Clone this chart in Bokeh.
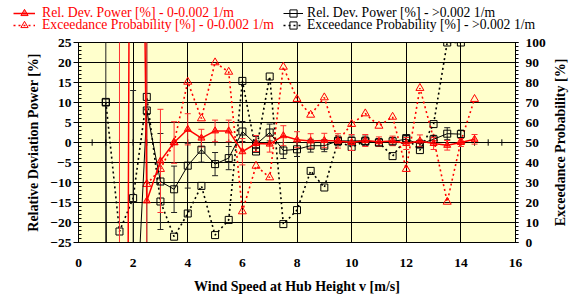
import numpy as np
from bokeh.plotting import figure
from bokeh.layouts import row
from bokeh.models import (Range1d, LinearAxis, SingleIntervalTicker, Legend, LegendItem,
                          ColumnDataSource, Label)
from bokeh.embed import file_html
from bokeh.resources import INLINE

# ---------------- data ----------------
wind_black = [1.0, 1.5, 2.0, 2.5, 3.0, 3.5, 4.0, 4.5, 5.0, 5.5, 6.0, 6.5, 7.0, 7.5,
              8.0, 8.5, 9.0, 9.5, 10.0, 10.5, 11.0, 11.5, 12.0, 12.5, 13.0, 13.5, 14.0]
dev_black = [10.0, -900.0, -60.0, 8.0, -9.75, -11.7, -5.8, -1.8, -5.4, -3.9, 2.75, -0.5, 2.5, -2.0,
             -1.7, -0.8, -0.8, 0.4, 0.4, 0.4, 0.0, 0.3, 0.8, -0.4, 0.8, 2.2, 2.1]
err_black = [500.0, 800.0, 73.0, 200.0, 12.0, 5.8, 5.6, 3.1, 2.9, 2.9, 2.5, 2.0, 2.1, 2.0,
             1.8, 1.6, 1.5, 1.2, 1.2, 1.2, 1.0, 1.0, 1.0, 1.0, 1.0, 1.5, 1.0]
prob_black = [70.3, 5.5, 22.2, 72.8, 20.5, 2.9, 14.5, 28.3, 3.7, 11.3, 80.8, 45.5, 83.0, 9.2,
              16.2, 35.8, 27.5, 50.5, 47.8, 50.5, 50.0, 43.2, 52.2, 46.2, 59.2, 100.0, 100.0]

wind_red = [1.5, 2.0, 2.5, 3.0, 3.5, 4.0, 4.5, 5.0, 5.5, 6.0, 6.5, 7.0, 7.5, 8.0,
            8.5, 9.0, 9.5, 10.0, 10.5, 11.0, 11.5, 12.0, 12.5, 13.0, 13.5, 14.0, 14.5]
dev_red = [-600.0, 300.0, -14.6, -4.6, 0.0, 3.3, 1.1, 2.9, 2.9, -2.3, -0.25, -0.4, 1.7, 0.7,
           0.4, 0.5, 0.4, 0.0, 0.5, 0.2, 0.4, -0.25, 0.4, -0.25, -0.7, 0.0, 0.8]
err_red = [700.0, 0.0, 300.0, 12.9, 5.2, 3.9, 2.2, 2.7, 2.7, 3.3, 2.0, 2.0, 2.5, 2.0,
           1.8, 1.8, 1.8, 2.0, 1.5, 1.2, 1.2, 1.5, 1.5, 1.5, 1.2, 1.0, 1.2]

wind_red_prob = [2.5, 3.0, 3.5, 4.0, 4.5, 5.0, 5.5, 6.0, 6.5, 7.0, 7.5, 8.0, 8.5,
                 9.0, 9.5, 10.0, 10.5, 11.0, 11.5, 12.0, 12.5, 13.0, 13.5, 14.0, 14.5]
prob_red = [29.2, 36.7, 50.0, 80.3, 62.0, 90.0, 85.3, 15.5, 38.3, 32.5, 87.8, 71.7, 63.8,
            72.5, 50.8, 59.2, 64.5, 58.3, 62.8, 36.7, 77.2, 52.0, 20.3, 50.5, 71.7]

labels_red = ["Rel. Dev. Power [%] - 0-0.002 1/m", "Exceedance Probability [%] - 0-0.002 1/m"]
labels_black = ["Rel. Dev. Power [%] - >0.002 1/m", "Exceedance Probability [%] - >0.002 1/m"]
x_title = "Wind Speed at Hub Height v [m/s]"
y_title = "Relative Deviation Power [%]"
y2_title = "Exceedance Probability [%]"

RED = "#FF0000"
RED_ERR = "#FF3030"
BLACK = "#000000"
FONT = "Liberation Serif"
DASH = "2 3"

src_b = ColumnDataSource(dict(x=wind_black, y=dev_black,
                              lo=[v - e for v, e in zip(dev_black, err_black)],
                              hi=[v + e for v, e in zip(dev_black, err_black)]))
src_r = ColumnDataSource(dict(x=wind_red, y=dev_red,
                              lo=[v - e for v, e in zip(dev_red, err_red)],
                              hi=[v + e for v, e in zip(dev_red, err_red)]))
src_bp = ColumnDataSource(dict(x=wind_black, y=prob_black))
src_rp = ColumnDataSource(dict(x=wind_red_prob, y=prob_red))

STY = {
    "r":  dict(line=dict(line_color=RED, line_width=1.5),
               mark=dict(marker="triangle", size=7, line_color=RED, fill_color=RED, fill_alpha=0.5, line_width=1)),
    "rp": dict(line=dict(line_color=RED, line_width=1.6, line_dash=DASH),
               mark=dict(marker="triangle", size=8, line_color=RED, fill_color=None, line_width=1)),
    "b":  dict(line=dict(line_color=BLACK, line_width=1),
               mark=dict(marker="square", size=7, line_color=BLACK, fill_color=None, line_width=1)),
    "bp": dict(line=dict(line_color=BLACK, line_width=1.6, line_dash=DASH),
               mark=dict(marker="square", size=7, line_color=BLACK, fill_color=None, line_width=1)),
}

# ---------------- main chart ----------------
p = figure(width=548, height=263, x_range=Range1d(0, 16), y_range=Range1d(-25, 25),
           output_backend="svg", toolbar_location=None,
           min_border_left=78, min_border_right=33, min_border_top=8, min_border_bottom=55)
p.extra_y_ranges = {"prob": Range1d(0, 100)}
p.background_fill_color = "#FFFFCC"
p.border_fill_color = "white"
p.outline_line_color = BLACK
p.outline_line_width = 1

p.xgrid.ticker = SingleIntervalTicker(interval=2)
p.ygrid.ticker = SingleIntervalTicker(interval=5)
p.xgrid.grid_line_color = BLACK
p.ygrid.grid_line_color = BLACK

xa = p.xaxis[0]
xa.ticker = SingleIntervalTicker(interval=2, num_minor_ticks=0)
xa.major_tick_out = 0
xa.major_tick_in = 0
xa.minor_tick_out = 0
xa.minor_tick_in = 0
xa.axis_label = x_title
xa.major_label_standoff = 16
xa.axis_label_standoff = 9

ya = p.yaxis[0]
ya.ticker = SingleIntervalTicker(interval=5, num_minor_ticks=5)
ya.major_tick_in = 5
ya.major_tick_out = 5
ya.minor_tick_in = 3
ya.minor_tick_out = 0
ya.axis_label = y_title
ya.major_label_standoff = 2
ya.axis_label_standoff = 6

ra = LinearAxis(y_range_name="prob", ticker=SingleIntervalTicker(interval=10, num_minor_ticks=5))
ra.major_tick_in = 3
ra.major_tick_out = 3
ra.minor_tick_in = 0
ra.minor_tick_out = 3
ra.major_label_standoff = 7
p.add_layout(ra, "right")

for ax in [xa, ya, ra]:
    ax.axis_line_color = BLACK
    ax.major_tick_line_color = BLACK
    ax.minor_tick_line_color = BLACK
    ax.major_label_text_font = FONT
    ax.major_label_text_font_style = "bold"
    ax.major_label_text_font_size = "13.5px"
    ax.major_label_text_color = BLACK
    ax.axis_label_text_font = FONT
    ax.axis_label_text_font_style = "bold"
    ax.axis_label_text_font_size = "14px"
    ax.axis_label_text_color = BLACK

# tick marks of the horizontal axis that crosses at zero
axis_ticks = np.arange(0.5, 16.0, 0.5)
p.segment(x0=axis_ticks, y0=-0.8, x1=axis_ticks, y1=0.8, line_color=BLACK, line_width=1)

# exceedance probabilities (right axis)
p.line("x", "y", source=src_bp, y_range_name="prob", **STY["bp"]["line"])
p.scatter("x", "y", source=src_bp, y_range_name="prob", **STY["bp"]["mark"])
p.line("x", "y", source=src_rp, y_range_name="prob", **STY["rp"]["line"])
p.scatter("x", "y", source=src_rp, y_range_name="prob", **STY["rp"]["mark"])

# error bars
for src, col in [(src_b, "#222222"), (src_r, RED_ERR)]:
    p.segment(x0="x", y0="lo", x1="x", y1="hi", source=src, line_color=col, line_width=1)
    p.scatter("x", "lo", source=src, marker="dash", size=6, line_color=col, line_width=1)
    p.scatter("x", "hi", source=src, marker="dash", size=6, line_color=col, line_width=1)

# relative deviation (left axis)
p.line("x", "y", source=src_b, **STY["b"]["line"])
p.scatter("x", "y", source=src_b, **STY["b"]["mark"])
p.line("x", "y", source=src_r, **STY["r"]["line"])
p.scatter("x", "y", source=src_r, **STY["r"]["mark"])

# ---------------- right-hand axis title (bottom-to-top, centred on the frame) ----------------
rt = figure(width=26, height=263, x_range=Range1d(0, 1), y_range=Range1d(0, 1),
            x_axis_type=None, y_axis_type=None, toolbar_location=None, output_backend="svg",
            min_border_left=0, min_border_right=0, min_border_top=8, min_border_bottom=55)
rt.outline_line_color = None
rt.background_fill_color = "white"
rt.border_fill_color = "white"
rt.xgrid.visible = False
rt.ygrid.visible = False
rt.add_layout(Label(x=0.45, y=0.5, text=y2_title, angle=np.pi / 2, text_align="center",
                    text_baseline="middle", text_font=FONT, text_font_style="bold",
                    text_font_size="14px", text_color=BLACK))

# ---------------- legend strip (separate root; same series, empty view range) ----------------
lf = figure(width=574, height=34, x_range=Range1d(-10, -9), y_range=Range1d(-10, -9),
            x_axis_type=None, y_axis_type=None, min_border=0, toolbar_location=None,
            output_backend="svg")
lf.outline_line_color = None
lf.background_fill_color = "white"
lf.border_fill_color = "white"
lf.xgrid.visible = False
lf.ygrid.visible = False

rends = {}
for key, src in [("r", src_r), ("rp", src_rp), ("b", src_b), ("bp", src_bp)]:
    rends[key] = [lf.line("x", "y", source=src, **STY[key]["line"]),
                  lf.scatter("x", "y", source=src, **STY[key]["mark"])]

def one_legend(label, rs, color, loc, gw, standoff):
    return Legend(items=[LegendItem(label=label, renderers=rs)], location=loc,
                  label_text_font=FONT, label_text_font_size="13.7px", label_text_color=color,
                  glyph_width=gw, glyph_height=18, label_height=18, spacing=0, padding=0,
                  margin=0, label_standoff=standoff, border_line_color=None,
                  background_fill_alpha=0)

lf.add_layout(one_legend(labels_red[0], rends["r"], RED, (13, 12), 22, 7))
lf.add_layout(one_legend(labels_red[1], rends["rp"], RED, (13, 0), 22, 7))
lf.add_layout(one_legend(labels_black[0], rends["b"], BLACK, (283, 12), 20, 4))
lf.add_layout(one_legend(labels_black[1], rends["bp"], BLACK, (283, 0), 20, 4))

open("out.html", "w").write(file_html([lf, row(p, rt, spacing=0)], INLINE))
